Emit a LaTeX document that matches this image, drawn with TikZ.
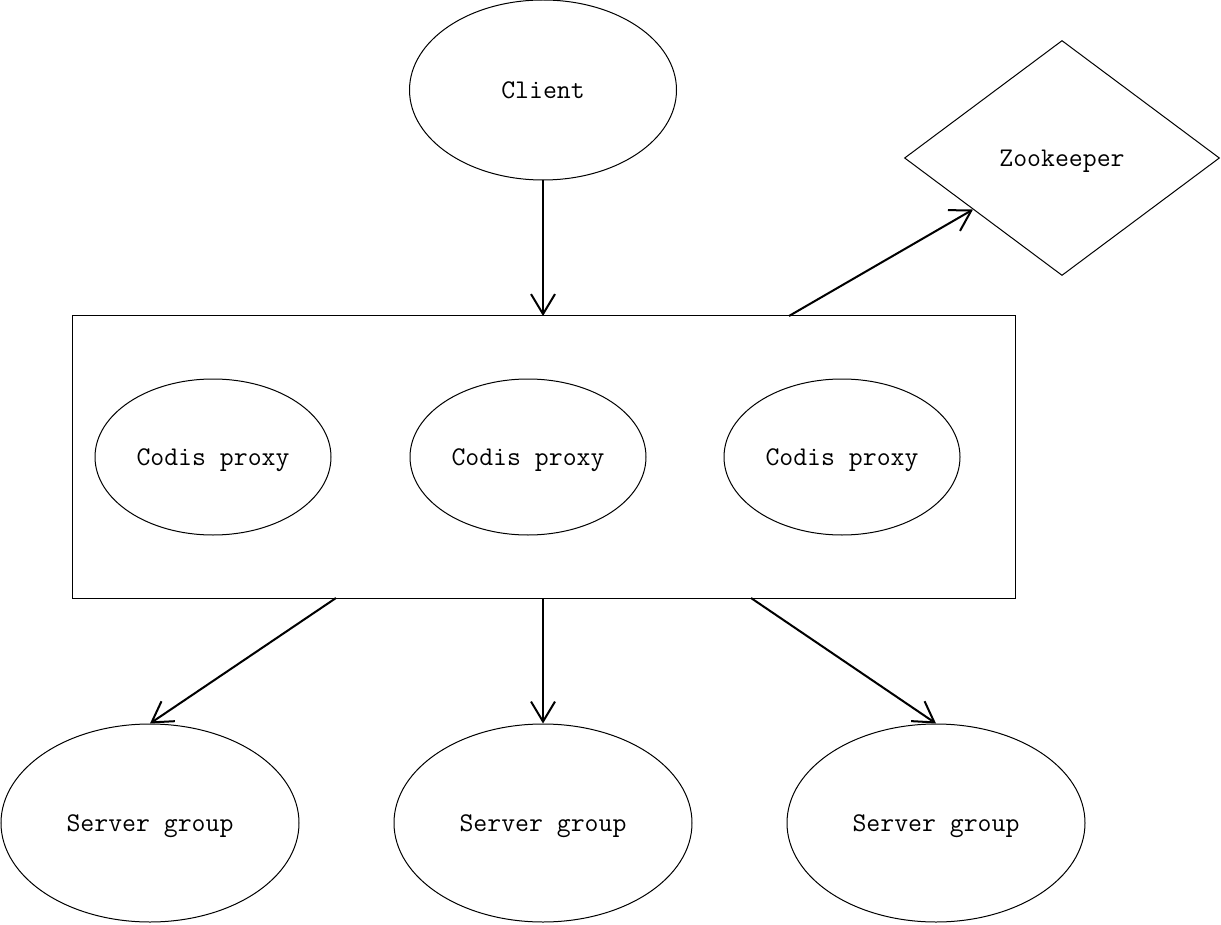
\documentclass[tikz,border=0pt]{standalone}
\usepackage{fontspec}
\usetikzlibrary{shapes.geometric,arrows.meta}
\newcommand\lbltext{\ttfamily\fontsize{27}{31}\selectfont}
\begin{document}
\begin{tikzpicture}[x=1pt,y=-1pt,
  shp/.style={draw=black, line width=1pt, inner sep=0pt, font=\lbltext, text depth=0pt},
  ell/.style={shp, ellipse},
  arr/.style={line width=2pt, -{Straight Barb[length=20pt,width=24pt,line width=2pt]}}]
\useasboundingbox (0,0) rectangle (1221,925);
\node[ell, minimum width=267pt, minimum height=180pt] (client) at (543,90) {Client};
\node[shp, diamond, minimum width=315pt, minimum height=235pt, aspect=1.34] (zk) at (1062,158) {Zookeeper};
\draw[line width=1pt] (72,316) rectangle (1015,598);
\node[ell, minimum width=236pt, minimum height=156pt] (p1) at (213,457) {Codis proxy};
\node[ell, minimum width=236pt, minimum height=156pt] (p2) at (528,457) {Codis proxy};
\node[ell, minimum width=236pt, minimum height=156pt] (p3) at (842,457) {Codis proxy};
\node[ell, minimum width=298pt, minimum height=198pt] (s1) at (150,823) {Server group};
\node[ell, minimum width=298pt, minimum height=198pt] (s2) at (543,823) {Server group};
\node[ell, minimum width=298pt, minimum height=198pt] (s3) at (936,823) {Server group};
\coordinate (intop) at (543,316);
\coordinate (zkout) at (789,316);
\coordinate (b1) at (336,598);
\coordinate (b2) at (543,598);
\coordinate (b3) at (751,598);
\draw[arr] (client.south) -- (intop);
\draw[arr] (zkout) -- (zk);
\draw[arr] (b1) -- (s1.north);
\draw[arr] (b2) -- (s2.north);
\draw[arr] (b3) -- (s3.north);
\end{tikzpicture}
\end{document}
